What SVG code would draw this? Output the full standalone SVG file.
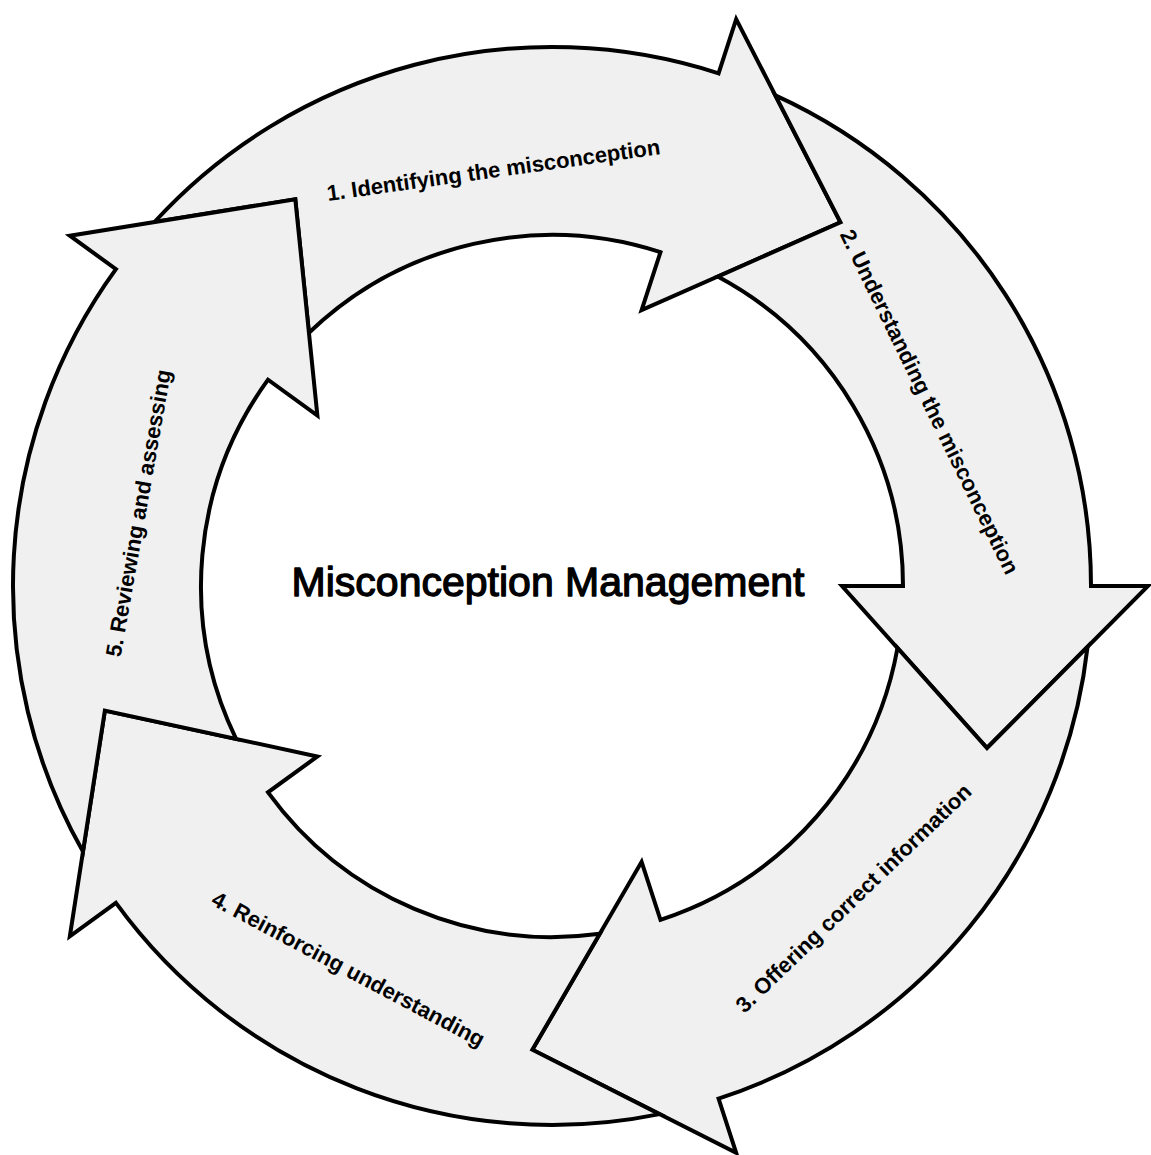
<svg xmlns="http://www.w3.org/2000/svg" xmlns:xlink="http://www.w3.org/1999/xlink" width="1151" height="1155" viewBox="0 0 1151 1155">
  <style>
    .seg { fill: #eff0ef; stroke: #000; stroke-width: 4; stroke-linejoin: miter; stroke-miterlimit: 10; }
    .lbl { font-family: "Liberation Sans", Arial, Helvetica, sans-serif; font-size: 22px; font-weight: bold; fill: #000; text-anchor: middle; dominant-baseline: central; }
    .title { font-family: "Liberation Sans", Arial, Helvetica, sans-serif; font-size: 41px; fill: #000; stroke: #000; stroke-width: 1.3; stroke-linejoin: round; text-anchor: middle; }
  </style>
  <defs>
    <path id="arrow" d="M 223.34 -490.56 A 539 539 0 0 1 539 0 L 596 0 L 435 162 L 290 0 L 351 0 A 351 351 0 0 0 165.72 -309.41 L 288.49 -363.65 Z"/>
  </defs>
  <rect x="0" y="0" width="1151" height="1155" fill="#fff"/>
  <g id="step1">
    <use xlink:href="#arrow" href="#arrow" class="seg" transform="translate(552 586) rotate(-72)"/>
    <text class="lbl" transform="translate(493.5 170.1) rotate(-8)">1. Identifying the misconception</text>
  </g>
  <g id="step2">
    <use xlink:href="#arrow" href="#arrow" class="seg" transform="translate(552 586) rotate(0)"/>
    <text class="lbl" transform="translate(929.5 401.9) rotate(64)">2. Understanding the misconception</text>
  </g>
  <g id="step3">
    <use xlink:href="#arrow" href="#arrow" class="seg" transform="translate(552 586) rotate(72)"/>
    <text class="lbl" transform="translate(853.5 898.2) rotate(-44)">3. Offering correct information</text>
  </g>
  <g id="step4">
    <use xlink:href="#arrow" href="#arrow" class="seg" transform="translate(552 586) rotate(144)"/>
    <text class="lbl" transform="translate(348.3 969.2) rotate(28)">4. Reinforcing understanding</text>
  </g>
  <g id="step5">
    <use xlink:href="#arrow" href="#arrow" class="seg" transform="translate(552 586) rotate(216)"/>
    <text class="lbl" transform="translate(138.4 513.1) rotate(-80)">5. Reviewing and assessing</text>
  </g>
  <g id="center">
    <text class="title" x="548" y="596">Misconception Management</text>
  </g>
</svg>
